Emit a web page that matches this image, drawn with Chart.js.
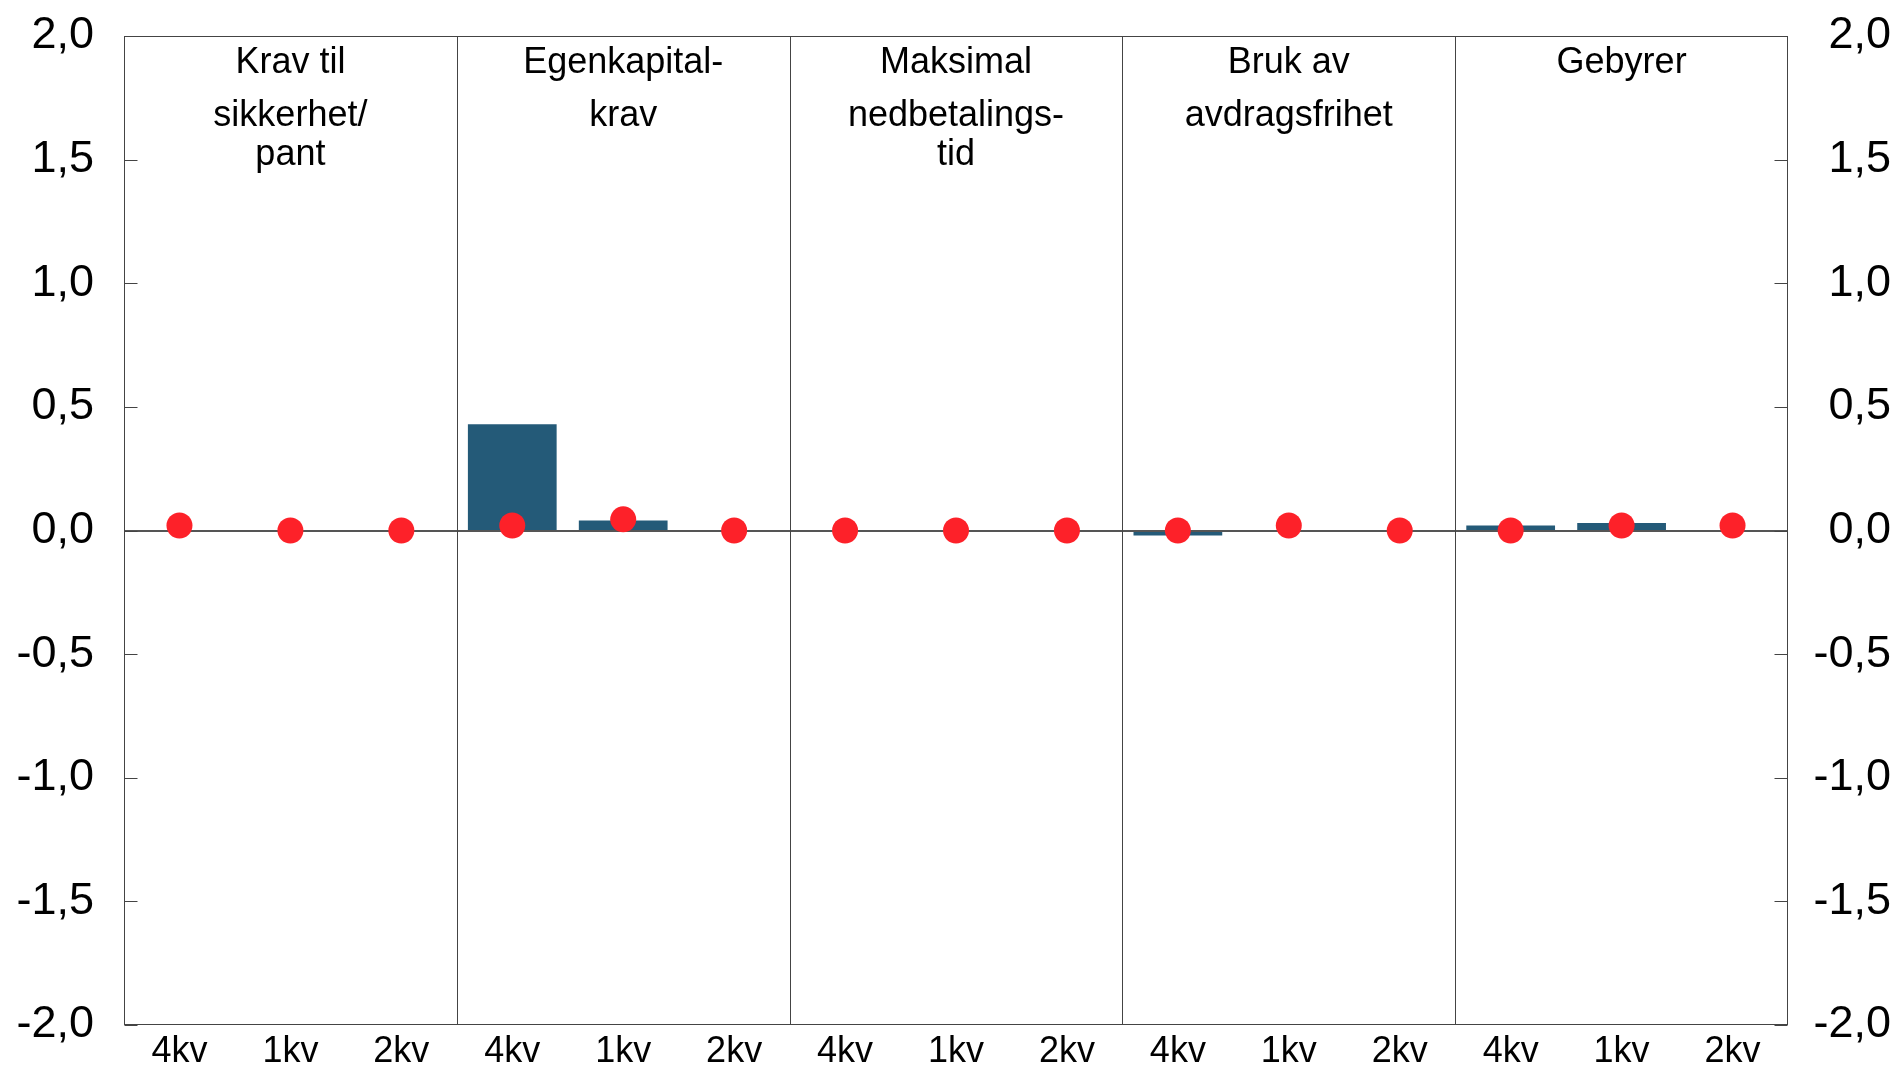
<!DOCTYPE html>
<html>
<head>
<meta charset="utf-8">
<script src="https://cdn.jsdelivr.net/npm/chart.js@4.4.1/dist/chart.umd.min.js"></script>
<style>
html,body{margin:0;padding:0;background:#fff;}
#wrap{width:1901px;height:1066px;position:relative;}
</style>
</head>
<body>
<div id="wrap"><canvas id="c"></canvas></div>
<script>
// ---- data ----
const groupHeaders = [
  ["Krav til", "sikkerhet/", "pant"],
  ["Egenkapital-", "krav"],
  ["Maksimal", "nedbetalings-", "tid"],
  ["Bruk av", "avdragsfrihet"],
  ["Gebyrer"]
];
const quarters = ["4kv", "1kv", "2kv"];
const barValues = [0, 0, 0,  0.43, 0.04, 0,  0, 0, 0,  -0.02, 0, 0,  0.02, 0.03, 0];
const dotValues = [0.02, 0, 0,  0.02, 0.045, 0,  0, 0, 0,  0, 0.02, 0,  0, 0.02, 0.02];
const yTicks = [-2, -1.5, -1, -0.5, 0, 0.5, 1, 1.5, 2];

const labels = [];
groupHeaders.forEach(() => quarters.forEach(q => labels.push(q)));

const FONT = "'Liberation Sans', Arial, sans-serif";
const fmt = v => v.toFixed(1).replace('.', ',');

const decor = {
  id: 'decor',
  afterDatasetDraw(chart, args) {
    if (args.index !== 0) return;
    const ctx = chart.ctx, a = chart.chartArea, y = chart.scales.y;
    const z = Math.round(y.getPixelForValue(0));
    ctx.save();
    ctx.strokeStyle = '#555555';
    ctx.lineWidth = 2;
    ctx.beginPath(); ctx.moveTo(a.left, z); ctx.lineTo(a.right, z); ctx.stroke();
    ctx.restore();
  },
  afterDraw(chart) {
    const ctx = chart.ctx, a = chart.chartArea, x = chart.scales.x, y = chart.scales.y;
    ctx.save();
    ctx.strokeStyle = '#444';
    ctx.lineWidth = 1;
    const L = Math.round(a.left) + 0.5, R = Math.round(a.right) - 0.5;
    const T = Math.round(a.top) + 0.5, B = Math.round(a.bottom) - 0.5;
    ctx.strokeRect(L, T, R - L, B - T);
    for (let g = 1; g < groupHeaders.length; g++) {
      const i = g * quarters.length;
      const px = Math.round((x.getPixelForValue(i - 1) + x.getPixelForValue(i)) / 2) + 0.5;
      ctx.beginPath(); ctx.moveTo(px, T); ctx.lineTo(px, B); ctx.stroke();
    }
    yTicks.forEach(v => {
      const py = Math.round(y.getPixelForValue(v)) + 0.5;
      ctx.beginPath();
      ctx.moveTo(L, py); ctx.lineTo(L + 13, py);
      ctx.moveTo(R, py); ctx.lineTo(R - 13, py);
      ctx.stroke();
    });
    ctx.fillStyle = '#000';
    ctx.font = '36px ' + FONT;
    ctx.textAlign = 'center';
    ctx.textBaseline = 'alphabetic';
    const offs = [37, 90, 129];
    groupHeaders.forEach((lines, g) => {
      const cx = x.getPixelForValue(g * quarters.length + 1);
      lines.forEach((t, k) => ctx.fillText(t, cx, a.top + offs[k]));
    });
    ctx.restore();
  }
};

const noPadY = s => { s.paddingTop = 0; s.paddingBottom = 0; };

new Chart(document.getElementById('c'), {
  data: {
    labels: labels,
    datasets: [
      {
        type: 'bar',
        data: barValues,
        backgroundColor: '#245A78',
        barPercentage: 0.8,
        categoryPercentage: 1.0,
        order: 2,
        yAxisID: 'y'
      },
      {
        type: 'line',
        data: dotValues,
        showLine: false,
        pointStyle: 'circle',
        pointRadius: 13,
        pointHoverRadius: 13,
        pointBackgroundColor: '#FD2129',
        pointBorderWidth: 0,
        pointBorderColor: '#FD2129',
        order: 1,
        yAxisID: 'y'
      }
    ]
  },
  options: {
    responsive: true,
    maintainAspectRatio: false,
    animation: false,
    events: [],
    layout: { padding: { top: 36, left: 0, right: 10, bottom: 0 } },
    plugins: { legend: { display: false }, tooltip: { enabled: false } },
    scales: {
      x: {
        offset: true,
        grid: { display: false, drawTicks: false },
        border: { display: false },
        ticks: { color: '#000', font: { family: FONT, size: 36 }, padding: 5, maxRotation: 0, autoSkip: false },
        afterFit: s => { s.height = 41; s.paddingLeft = 0; s.paddingRight = 0; }
      },
      y: {
        position: 'left',
        min: -2, max: 2,
        grid: { display: false, drawTicks: false },
        border: { display: false },
        ticks: { stepSize: 0.5, color: '#000', font: { family: FONT, size: 45 }, padding: 30, callback: v => fmt(v) },
        afterFit: s => { s.width = 124; noPadY(s); }
      },
      y2: {
        position: 'right',
        min: -2, max: 2,
        grid: { display: false, drawTicks: false },
        border: { display: false },
        ticks: { stepSize: 0.5, color: '#000', font: { family: FONT, size: 45 }, crossAlign: 'far', padding: 0, callback: v => fmt(v) },
        afterFit: s => { s.width = 103; noPadY(s); }
      }
    }
  },
  plugins: [decor]
});
</script>
</body>
</html>
